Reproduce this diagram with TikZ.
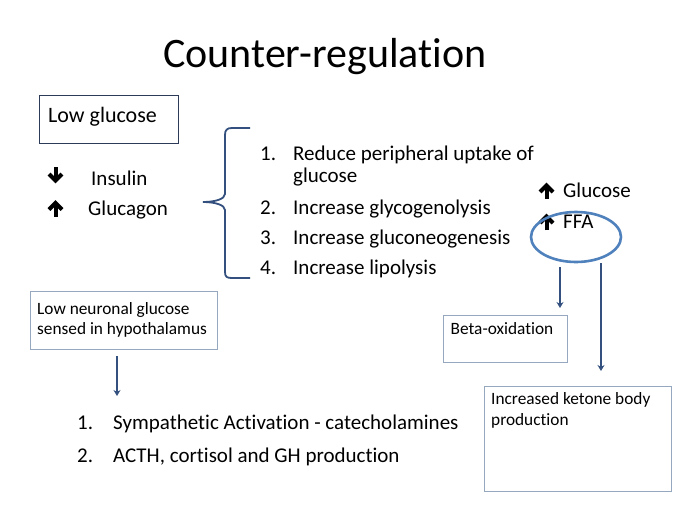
\documentclass[tikz,border=0pt]{standalone}
\usepackage{fontspec}
\setmainfont{Carlito}[RawFeature={-liga;-clig;-calt}]
\usetikzlibrary{arrows.meta,shapes.geometric}
\definecolor{navy}{HTML}{2E3B58}
\definecolor{boxline}{HTML}{95A8C0}
\definecolor{conncol}{HTML}{34507F}
\definecolor{ellcol}{HTML}{4F81BD}
\tikzset{
  txt/.style={inner sep=0pt, anchor=base west, font=\fontsize{21}{25}\selectfont},
  boxtxt/.style={inner sep=0pt, anchor=base west, font=\fontsize{17.3}{21}\selectfont},
  lightbox/.style={draw=boxline, line width=0.9pt, anchor=north west, inner sep=0pt},
  conn/.style={draw=conncol, line width=1.3pt, -{Stealth[length=6pt,width=7pt]}},
  uparr/.pic={\draw[line width=4pt] (0,8) -- (0,-4);
              \draw[line width=4pt, line join=miter, miter limit=4] (-6.5,1) -- (0,-5.5) -- (6.5,1);},
  dnarr/.pic={\draw[line width=4pt] (0,-8) -- (0,4);
              \draw[line width=4pt, line join=miter, miter limit=4] (-6.5,-1) -- (0,5.5) -- (6.5,-1);}
}
\begin{document}
\begin{tikzpicture}[x=1pt, y=-1pt]
\useasboundingbox[fill=white] (0,0) rectangle (680,506);
% title
\node[inner sep=0pt, anchor=base west, font=\fontsize{42}{50}\selectfont] (title) at (163,67) {Counter-regulat\kern0pt ion};
% low glucose box
\node[draw=navy, line width=1.4pt, anchor=north west, minimum width=139pt, minimum height=48pt, inner sep=0pt] (lgbox) at (39,95) {};
\node[inner sep=0pt, anchor=base west, font=\fontsize{22}{26}\selectfont] (lgtxt) at (48,122) {Low glucose};
% insulin / glucagon
\pic at (55.5,175) {dnarr};
\node[txt] (insulin) at (91,185) {Insulin};
\pic at (55.5,208.5) {uparr};
\node[txt] (glucagon) at (88,215) {Glucagon};
% brace
\draw[draw=conncol, line width=1.8pt] (250,128) -- (232,128) .. controls (227,128) and (225,130) .. (225,135) -- (225,194)
  .. controls (225,199) and (215,202) .. (203,202) .. controls (215,202) and (225,205) .. (225,210) -- (225,272)
  .. controls (225,277) and (227,278) .. (232,278) -- (250,278);
% top list
\node[txt] (n1) at (260,160) {1.};
\node[txt] (i1a) at (293,160) {Reduce peripheral uptake of};
\node[txt] (i1b) at (293,182) {glucose};
\node[txt] (n2) at (260,214) {2.};
\node[txt] (i2) at (293,214) {Increase glycogenolysis};
\node[txt] (n3) at (260,244) {3.};
\node[txt] (i3) at (293,244) {Increase gluconeogenesis};
\node[txt] (n4) at (260,274) {4.};
\node[txt] (i4) at (293,274) {Increase lipolysis};
% glucose / FFA
\pic at (546.5,191) {uparr};
\node[txt] (gluc) at (563,197) {Glucose};
\pic at (546.5,222) {uparr};
\node[txt] (ffa) at (563,228) {FFA};
\node[draw=ellcol, line width=2.6pt, ellipse, minimum width=90pt, minimum height=50pt, inner sep=0pt] (ell) at (576,237) {};
% beta-oxidation box
\node[lightbox, minimum width=124pt, minimum height=47pt] (betabox) at (443,315) {};
\node[boxtxt] (betatxt) at (450.5,334) {Beta-oxidation};
% ketone box
\node[lightbox, minimum width=187pt, minimum height=105pt] (ketbox) at (484,386) {};
\node[boxtxt] (ket1) at (491,404) {Increased ketone body};
\node[boxtxt] (ket2) at (491,425) {production};
% connectors from ellipse
\coordinate (a1s) at (560,267);
\coordinate (a1e) at (560,308);
\coordinate (a2s) at (601,263);
\coordinate (a2e) at (601,371);
\draw[conn] (a1s) -- (a1e);
\draw[conn] (a2s) -- (a2e);
% neuronal box
\node[lightbox, minimum width=187pt, minimum height=58pt] (neubox) at (30,291) {};
\node[boxtxt] (neu1) at (37,314) {Low neuronal glucose};
\node[boxtxt] (neu2) at (37,334) {sensed in hypothalamus};
\coordinate (a3s) at (117,356);
\coordinate (a3e) at (117,396);
\draw[conn] (a3s) -- (a3e);
% bottom list
\node[txt] (b1n) at (77,429) {1.};
\node[txt] (b1) at (113,429) {Sympathetic Activat\kern0pt ion - catecholamines};
\node[txt] (b2n) at (77,462) {2.};
\node[txt] (b2) at (113,462) {ACTH, cortisol and GH production};
\end{tikzpicture}
\end{document}
